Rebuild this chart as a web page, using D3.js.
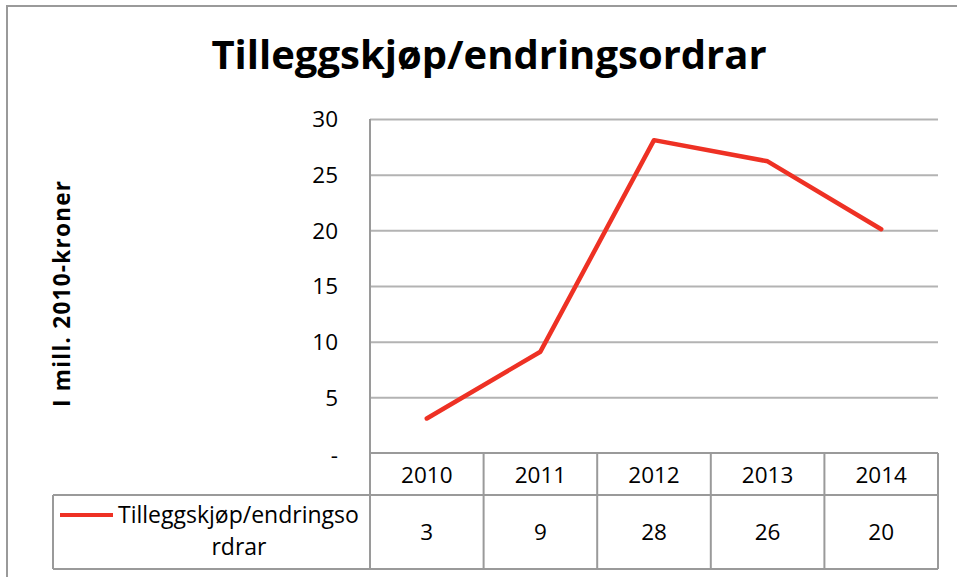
<!DOCTYPE html>
<html>
<head>
<meta charset="utf-8">
<script src="https://cdn.jsdelivr.net/npm/d3@7"></script>
<style>
  html, body { margin: 0; padding: 0; background: #fff; }
  svg { display: block; font-family: "Open Sans", "Liberation Sans", sans-serif; }
</style>
</head>
<body>
<svg id="chart" width="957" height="577"></svg>
<script>
const title = "Tilleggskjøp/endringsordrar";
const yAxisTitle = "I mill. 2010-kroner";
const seriesName = "Tilleggskjøp/endringsordrar";
const legendLines = ["Tilleggskjøp/endringso", "rdrar"];
const categories = ["2010", "2011", "2012", "2013", "2014"];
const values = [3.1, 9.1, 28.1, 26.2, 20.1];
const yTicks = [0, 5, 10, 15, 20, 25, 30];

const svg = d3.select("#chart");
const W = 957, H = 577;
const plot = { left: 370, right: 938, top: 119, bottom: 453 };
const tableBottom = 569, headerBottom = 495, legendLeft = 53;
const gridColor = "#b3b3b3", borderColor = "#9a9a9a", lineColor = "#ee3124";

// outer chart border
svg.append("rect").attr("x", 7).attr("y", 6).attr("width", W + 10).attr("height", H + 10)
  .attr("fill", "#fff").attr("stroke", borderColor).attr("stroke-width", 2);

const x = d3.scaleBand().domain(categories).range([plot.left, plot.right]).padding(0);
const y = d3.scaleLinear().domain([0, 30]).range([plot.bottom, plot.top]);

// gridlines + y labels via axis
const yAxis = d3.axisLeft(y).tickValues(yTicks)
  .tickFormat(d => d === 0 ? "-" : d3.format("d")(d))
  .tickSize(-(plot.right - plot.left)).tickPadding(32);
const gy = svg.append("g").attr("transform", `translate(${plot.left},0)`).call(yAxis);
gy.select(".domain").remove();
gy.selectAll(".tick line").attr("stroke", gridColor).attr("stroke-width", 2)
  .attr("display", d => d === 0 ? "none" : null);
gy.selectAll(".tick text").attr("font-size", 22.5).attr("fill", "#000")
  .attr("font-family", "'Open Sans', sans-serif")
  .attr("dy", d => d === 0 ? "0.4em" : "0.35em");

// title
svg.append("text").attr("x", 489).attr("y", 69).attr("text-anchor", "middle")
  .attr("font-size", 40).attr("font-weight", "bold").text(title);

// y axis title
svg.append("text").attr("transform", "translate(70,294) rotate(-90)")
  .attr("text-anchor", "middle").attr("font-size", 22.5).attr("font-weight", "bold")
  .attr("textLength", 226).attr("lengthAdjust", "spacing")
  .text(yAxisTitle);

// data table lines
const tbl = svg.append("g").attr("stroke", borderColor).attr("stroke-width", 2).attr("fill", "none");
tbl.append("line").attr("x1", plot.left).attr("x2", plot.left).attr("y1", plot.top).attr("y2", tableBottom);
tbl.append("line").attr("x1", plot.left).attr("x2", plot.right).attr("y1", plot.bottom).attr("y2", plot.bottom);
tbl.append("line").attr("x1", legendLeft).attr("x2", plot.right).attr("y1", headerBottom).attr("y2", headerBottom);
tbl.append("line").attr("x1", legendLeft).attr("x2", plot.right).attr("y1", tableBottom).attr("y2", tableBottom);
tbl.append("line").attr("x1", legendLeft).attr("x2", legendLeft).attr("y1", headerBottom).attr("y2", tableBottom);
tbl.selectAll("line.col").data(categories).enter().append("line").attr("class", "col")
  .attr("x1", d => x(d) + x.bandwidth()).attr("x2", d => x(d) + x.bandwidth())
  .attr("y1", plot.bottom).attr("y2", tableBottom);

// year labels
svg.append("g").selectAll("text").data(categories).enter().append("text")
  .attr("x", d => x(d) + x.bandwidth() / 2).attr("y", 483)
  .attr("text-anchor", "middle").attr("font-size", 22.5).text(d => d);

// values row
svg.append("g").selectAll("text").data(values).enter().append("text")
  .attr("x", (d, i) => x(categories[i]) + x.bandwidth() / 2).attr("y", 540)
  .attr("text-anchor", "middle").attr("font-size", 22.5).text(d => d3.format(".0f")(d));

// legend
svg.append("line").attr("x1", 60).attr("x2", 113).attr("y1", 515).attr("y2", 515)
  .attr("stroke", lineColor).attr("stroke-width", 4);
svg.append("text").attr("x", 118).attr("y", 523).attr("font-size", 23).text(legendLines[0]);
svg.append("text").attr("x", 239).attr("y", 555).attr("text-anchor", "middle").attr("font-size", 23).text(legendLines[1]);

// series line
const line = d3.line().x((d, i) => x(categories[i]) + x.bandwidth() / 2).y(d => y(d));
svg.append("path").datum(values).attr("d", line).attr("fill", "none")
  .attr("stroke", lineColor).attr("stroke-width", 4.5).attr("stroke-linejoin", "round").attr("stroke-linecap", "round");
</script>
</body>
</html>
